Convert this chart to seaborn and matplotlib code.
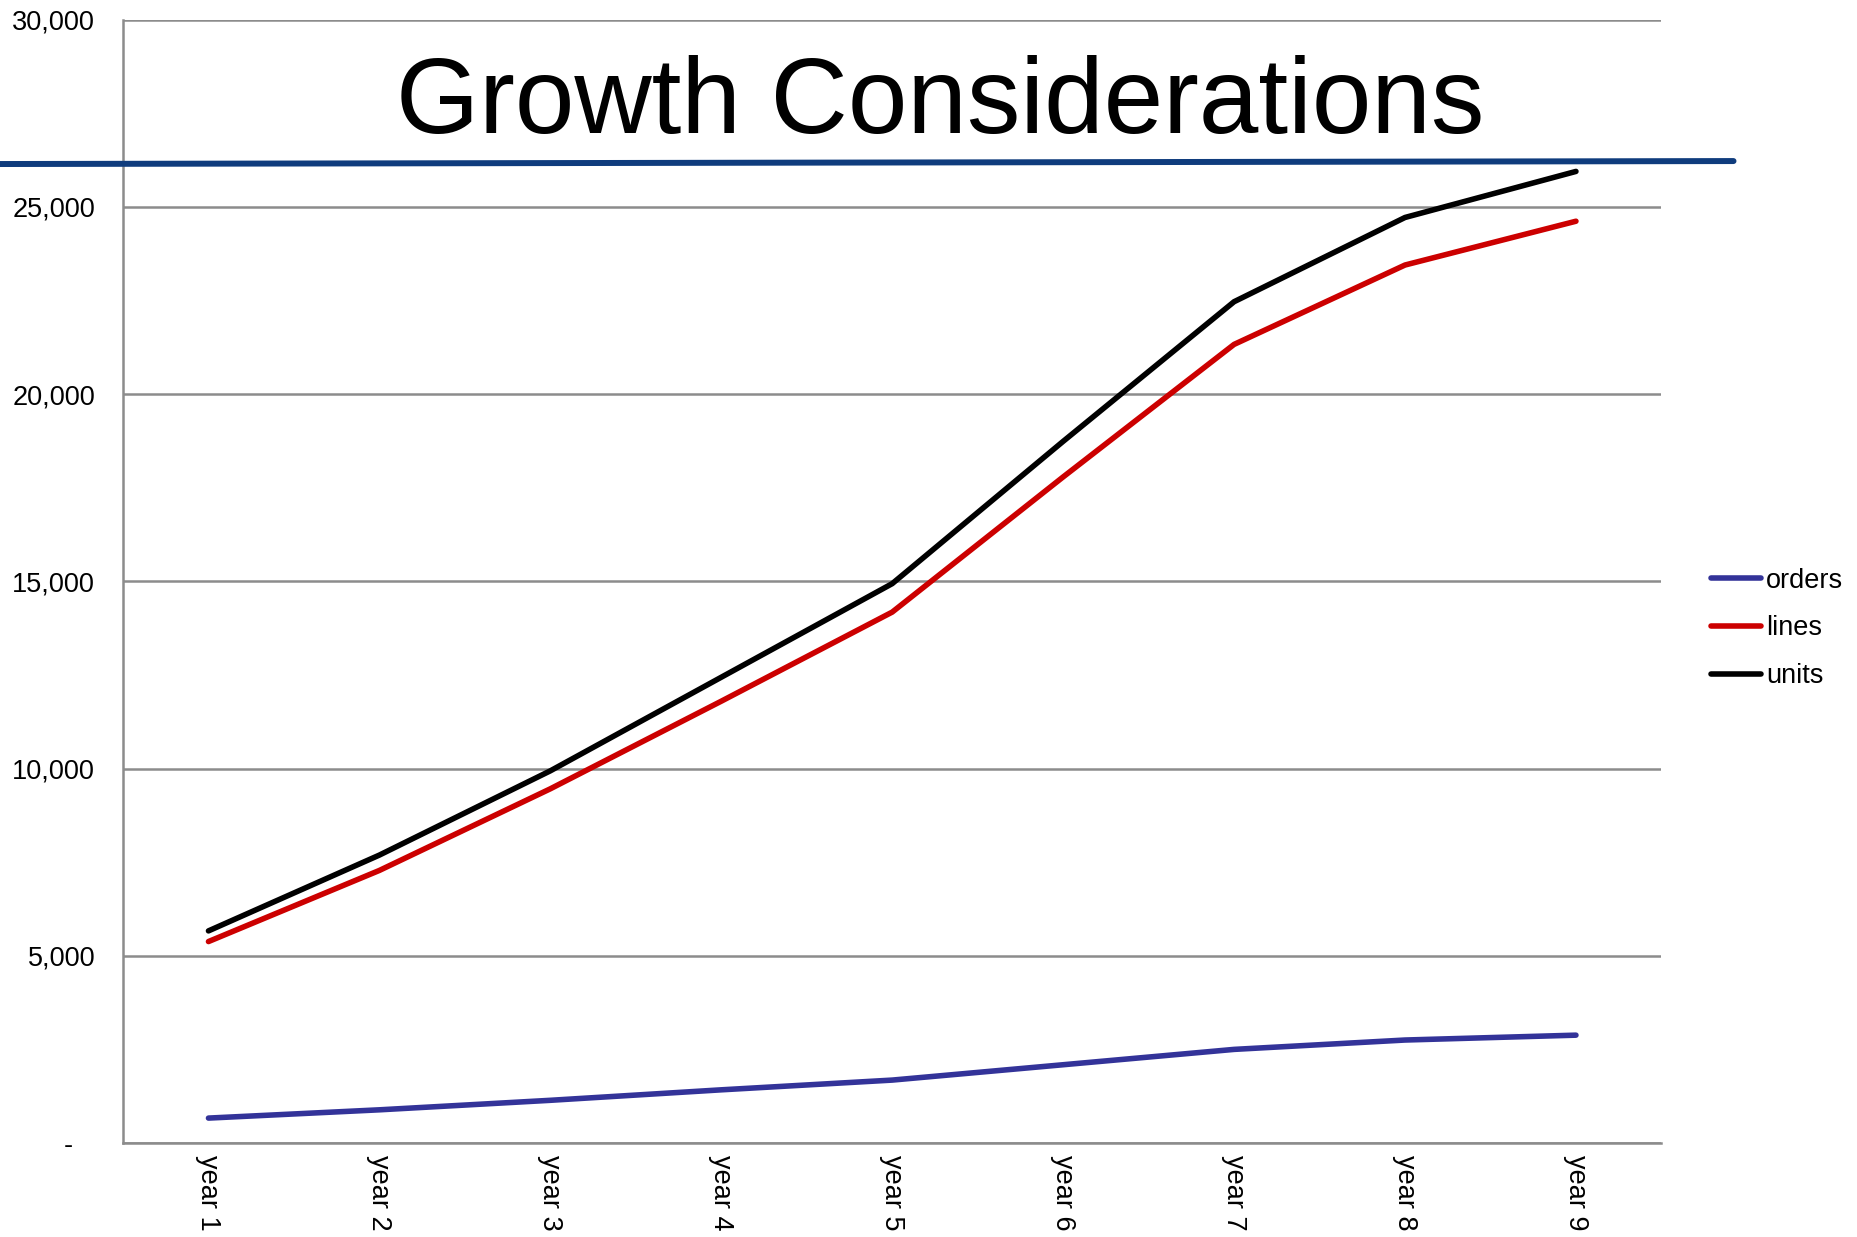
import pandas as pd
import matplotlib.pyplot as plt
import matplotlib.ticker as mticker
import seaborn as sns

years = ['year 1', 'year 2', 'year 3', 'year 4', 'year 5', 'year 6', 'year 7', 'year 8', 'year 9']
orders = [665, 886, 1140, 1420, 1680, 2090, 2500, 2750, 2880]
lines = [5380, 7280, 9460, 11800, 14180, 17790, 21330, 23450, 24620]
units = [5665, 7690, 9940, 12440, 14940, 18740, 22470, 24720, 25950]

df = pd.DataFrame({'Year': years * 3,
                   'Value': orders + lines + units,
                   'Series': ['orders'] * 9 + ['lines'] * 9 + ['units'] * 9})

sns.set_style('white')
plt.rcParams['font.family'] = ['Liberation Sans', 'DejaVu Sans']
plt.rcParams['text.color'] = 'black'
plt.rcParams['xtick.color'] = 'black'
plt.rcParams['ytick.color'] = 'black'

fig = plt.figure(figsize=(18.58, 12.37), dpi=100)
ax = fig.add_axes([0.0662, 0.076, 0.828, 0.908])

pal = {'orders': '#333399', 'lines': '#CC0000', 'units': '#000000'}
sns.lineplot(data=df, x='Year', y='Value', hue='Series', palette=pal,
             linewidth=4, solid_capstyle='round', ax=ax, legend=False)

ax.set_xlim(-0.5, 8.5)
ax.set_ylim(0, 30000)
ax.set_yticks(range(0, 30001, 5000))
ax.yaxis.set_major_formatter(mticker.FuncFormatter(
    lambda v, p: '-   ' if v == 0 else f'{int(v):,}'))
ax.grid(axis='y', color='#8c8c8c', linewidth=1.8)
ax.set_axisbelow(True)
for s in ['top', 'right']:
    ax.spines[s].set_visible(False)
for s in ['left', 'bottom']:
    ax.spines[s].set_color('#8c8c8c')
    ax.spines[s].set_linewidth(1.8)

ax.tick_params(axis='y', length=7, width=1.8, color='#8c8c8c',
               labelcolor='black', labelsize=19.5, pad=13)
ax.set_xticks(range(9))
ax.set_xticklabels(years, rotation=-90, fontsize=19.5, color='black')
ax.tick_params(axis='x', which='major', length=0, pad=9)
ax.set_xticks([i - 0.5 for i in range(10)], minor=True)
ax.tick_params(axis='x', which='minor', length=8, width=1.8, color='#8c8c8c')
ax.set_xlabel('')
ax.set_ylabel('')

# title and underline
fig.text(0.506, 0.915, 'Growth Considerations', fontsize=77, ha='center', va='center',
         color='black')
fig.add_artist(plt.Line2D([0, 0.933], [0.8674, 0.8698], color='#0F3C7D',
                          linewidth=4.3, transform=fig.transFigure))

handles = [plt.Line2D([], [], color=pal[k], linewidth=4, solid_capstyle='round')
           for k in ['orders', 'lines', 'units']]
fig.legend(handles, ['orders', 'lines', 'units'], loc='center left',
           bbox_to_anchor=(0.9135, 0.492), frameon=False, fontsize=19.5,
           handlelength=1.85, handletextpad=0.2, labelspacing=0.8, borderpad=0)

fig.savefig('out.png', dpi=100)
